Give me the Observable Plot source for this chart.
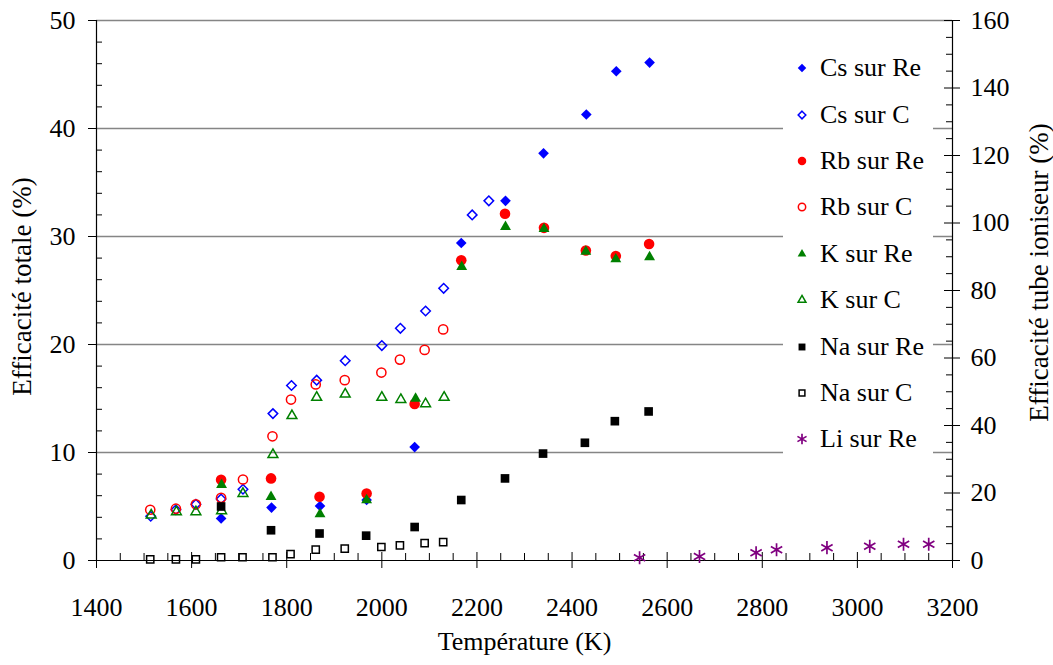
<!DOCTYPE html>
<html><head><meta charset="utf-8">
<script src="https://cdn.jsdelivr.net/npm/d3@7"></script>
<script src="https://cdn.jsdelivr.net/npm/@observablehq/plot@0.6"></script>
<style>
body{margin:0;background:#fff;font-family:"Liberation Serif","Times New Roman",serif;color:#000;}
#wrap{position:relative;width:1053px;height:665px;}
#legend{position:absolute;left:783px;top:45px;width:150px;background:#fff;}
.row{height:46.4px;display:flex;align-items:center;font-size:26px;white-space:nowrap;}
.row svg{flex:none;}
</style></head><body><div id="wrap"><div id="legend"></div></div>
<script>
// ---- Data (temperature in K, efficiency in %) ----
const csReT = [1662, 1768, 1870, 1968, 2069, 2167, 2260, 2340, 2430, 2493, 2563];
const csReV = [3.9, 4.9, 5.05, 5.6, 10.5, 29.4, 33.3, 37.7, 41.3, 45.3, 46.1];
const csCT = [1514, 1567, 1609, 1662, 1708, 1771, 1810, 1863, 1923, 2000, 2039, 2092, 2130, 2190, 2225];
const csCV = [4.1, 4.7, 5.2, 5.7, 6.6, 13.6, 16.2, 16.7, 18.5, 19.9, 21.5, 23.1, 25.2, 32.0, 33.3];
const rbReT = [1662, 1767, 1869, 1968, 2069, 2167, 2259, 2341, 2429, 2492, 2562];
const rbReV = [7.47, 7.6, 5.9, 6.2, 14.5, 27.8, 32.1, 30.8, 28.7, 28.2, 29.3];
const rbCT = [1513, 1567, 1609, 1662, 1708, 1770, 1809, 1861, 1922, 1999, 2038, 2090, 2129];
const rbCV = [4.7, 4.8, 5.2, 5.8, 7.5, 11.5, 14.9, 16.3, 16.7, 17.4, 18.6, 19.5, 21.4];
const kReT = [1663, 1767, 1870, 1968, 2071, 2168, 2260, 2341, 2429, 2492, 2563];
const kReV = [7.0, 5.9, 4.3, 5.6, 15.0, 27.2, 30.9, 30.7, 28.6, 27.9, 28.1];
const kCT = [1515, 1568, 1609, 1663, 1708, 1771, 1811, 1863, 1923, 2000, 2040, 2092, 2131];
const kCV = [4.2, 4.5, 4.5, 4.6, 6.2, 9.8, 13.4, 15.1, 15.4, 15.1, 14.9, 14.5, 15.1];
const naReT = [1662, 1767, 1869, 1967, 2069, 2167, 2259, 2339, 2427, 2490, 2561];
const naReV = [5.0, 2.8, 2.5, 2.3, 3.1, 5.6, 7.6, 9.9, 10.9, 12.9, 13.8];
const naCT = [1513, 1567, 1609, 1662, 1707, 1770, 1808, 1861, 1922, 1999, 2038, 2090, 2129];
const naCV = [0.1, 0.1, 0.1, 0.3, 0.3, 0.3, 0.6, 1.0, 1.1, 1.25, 1.4, 1.6, 1.7];
// Li sur Re is read on the right axis (Efficacité tube ioniseur, %)
const liReT = [2542, 2668, 2787, 2830, 2936, 3026, 3097, 3150];
const liReV = [0.8, 1.2, 2.3, 3.2, 3.8, 4.2, 4.8, 4.8];

// ---- Axes ----
const xDomain = [1400, 3200];
const yDomain = [0, 50];
const y2Domain = [0, 160];
const xTicks = [1400, 1600, 1800, 2000, 2200, 2400, 2600, 2800, 3000, 3200];
const yTicks = [0, 10, 20, 30, 40, 50];
const y2Ticks = [0, 20, 40, 60, 80, 100, 120, 140, 160];
const xLabel = "Température (K)";
const yLabel = "Efficacité totale (%)";
const y2Label = "Efficacité tube ioniseur (%)";
const K = y2Domain[1] / yDomain[1];

const xMinor = d3.range(xDomain[0], xDomain[1] + 1, 50).filter(v => v % 200 !== 0);
const yMinor = d3.range(yDomain[0], yDomain[1] + 1, 2).filter(v => v % 10 !== 0);
const y2Minor = d3.range(y2Domain[0], y2Domain[1] + 1, 5).filter(v => v % 20 !== 0);

const W = 1053, H = 665, ML = 96, MR = 101, MT = 20, MB = 105;
const FW = W - ML - MR, FH = H - MT - MB;
const FONT = "'Liberation Serif', 'Times New Roman', serif";

const series = [
  {name: "Cs sur Re", T: csReT, V: csReV, symbol: "diamond2", fill: "#0000FF", r: 4.8},
  {name: "Cs sur C", T: csCT, V: csCV, symbol: "diamond2", stroke: "#0000FF", r: 4.3},
  {name: "Rb sur Re", T: rbReT, V: rbReV, symbol: "circle", fill: "#FF0000", r: 5.3},
  {name: "Rb sur C", T: rbCT, V: rbCV, symbol: "circle", stroke: "#FF0000", r: 4.6},
  {name: "K sur Re", T: kReT, V: kReV, symbol: "triangle2", fill: "#008000", r: 5.2},
  {name: "K sur C", T: kCT, V: kCV, symbol: "triangle2", stroke: "#008000", r: 4.7},
  {name: "Na sur Re", T: naReT, V: naReV, symbol: "square2", fill: "#000000", r: 5.5},
  {name: "Na sur C", T: naCT, V: naCV, symbol: "square2", stroke: "#000000", r: 4.6},
  {name: "Li sur Re", T: liReT, V: liReV.map(v => v / K), symbol: "asterisk", stroke: "#800080", r: 6.2}
];

const dotMarks = series.map(s => Plot.dot(s.T, {
  x: s.T, y: s.V, symbol: s.symbol, r: s.r,
  fill: s.fill ? s.fill : "none",
  stroke: s.stroke ? s.stroke : "none",
  strokeWidth: s.symbol === "asterisk" ? 1.7 : 1.5
}));

const chart = Plot.plot({
  width: W, height: H,
  marginLeft: ML, marginRight: MR, marginTop: MT, marginBottom: MB,
  style: {fontFamily: FONT, fontSize: "26px", background: "white", color: "black"},
  x: {domain: xDomain, label: null},
  y: {domain: yDomain, label: null},
  marks: [
    Plot.ruleY(yTicks.filter(v => v > 0), {y: d => d, stroke: "#858585", strokeWidth: 1.3}),
    // axis lines
    Plot.ruleX(xDomain, {x: d => d, stroke: "black", strokeWidth: 1.2}),
    Plot.ruleY([yDomain[0]], {y: d => d, stroke: "black", strokeWidth: 1.2}),
    // x ticks
    Plot.tickX(xTicks, {x: d => d, insetTop: FH - 8, insetBottom: -8, stroke: "black"}),
    Plot.tickX(xMinor, {x: d => d, insetTop: FH - 7, stroke: "black"}),
    // left ticks
    Plot.tickY(yTicks, {y: d => d, insetLeft: -8, insetRight: FW, stroke: "black"}),
    Plot.tickY(yMinor, {y: d => d, insetRight: FW - 6, stroke: "black"}),
    // right ticks
    Plot.tickY(y2Ticks.map(v => v / K), {y: d => d, insetLeft: FW - 8, insetRight: -8, stroke: "black"}),
    Plot.tickY(y2Minor.map(v => v / K), {y: d => d, insetLeft: FW - 6, stroke: "black"}),
    // tick labels
    Plot.axisX({ticks: xTicks, tickFormat: d => String(d), tickSize: 0, tickPadding: 37, fontSize: 26, label: null}),
    Plot.axisY({ticks: yTicks, tickFormat: d => String(d), tickSize: 0, tickPadding: 21, fontSize: 26, label: null}),
    Plot.axisY({anchor: "right", ticks: y2Ticks.map(v => v / K), tickFormat: d => String(Math.round(d * K)),
      tickSize: 0, tickPadding: 18, fontSize: 26, label: null}),
    // axis titles
    Plot.text([xLabel], {text: d => d, frameAnchor: "bottom", textAnchor: "middle", dy: 89, fontSize: 26}),
    Plot.text([yLabel], {text: d => d, frameAnchor: "left", textAnchor: "middle", rotate: -90, dx: -74, dy: -4, fontSize: 27}),
    Plot.text([y2Label], {text: d => d, frameAnchor: "right", textAnchor: "middle", rotate: -90, dx: 87, dy: -18, fontSize: 27}),
    ...dotMarks
  ]
});
const wrap = document.getElementById("wrap");
wrap.insertBefore(chart, wrap.firstChild);

// legend
const symMap = {diamond2: d3.symbolDiamond2, circle: d3.symbolCircle, triangle2: d3.symbolTriangle2, square2: d3.symbolSquare2, asterisk: d3.symbolAsterisk};
const legend = document.getElementById("legend");
for (const s of series) {
  const row = document.createElement("div");
  row.className = "row";
  const sz = 16;
  const path = d3.symbol(symMap[s.symbol], Math.PI * (s.r * 0.8) ** 2)();
  row.innerHTML = `<svg width="${sz}" height="${sz}" viewBox="${-sz/2} ${-sz/2} ${sz} ${sz}" style="margin-left:11px;margin-right:10px"><path d="${path}" fill="${s.fill || "none"}" stroke="${s.stroke || "none"}" stroke-width="${s.symbol === "asterisk" ? 1.7 : 1.5}"/></svg><span>${s.name}</span>`;
  legend.appendChild(row);
}
</script></body></html>
